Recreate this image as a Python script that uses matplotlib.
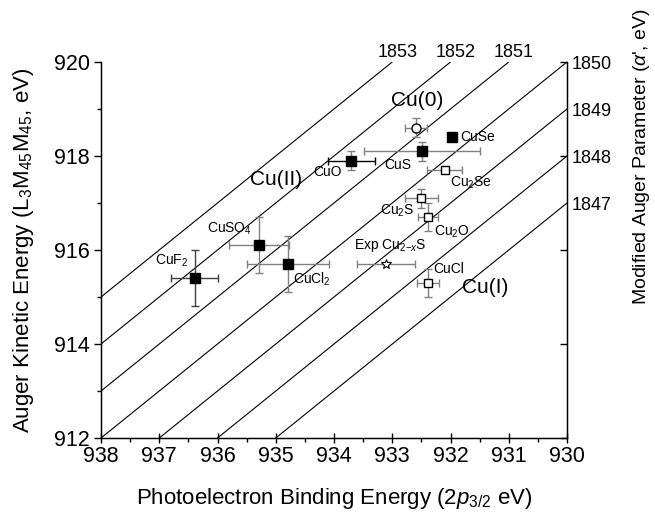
import matplotlib.pyplot as plt
from matplotlib import font_manager
from matplotlib.ticker import MultipleLocator

plt.rcParams['font.family'] = ['Liberation Sans', 'DejaVu Sans']
plt.rcParams['mathtext.fontset'] = 'custom'
plt.rcParams['mathtext.rm'] = 'Liberation Sans'
plt.rcParams['mathtext.it'] = 'Liberation Sans:italic'

# tick labels in the reference look condensed
try:
    font_manager.findfont(font_manager.FontProperties(family='Liberation Sans Narrow'),
                          fallback_to_default=False)
    tick_family, tick_size = 'Liberation Sans Narrow', 18
except ValueError:
    tick_family, tick_size = 'Liberation Sans', 15.5

# modified Auger parameter grid lines (alpha' = BE + KE)
alphas = [1847, 1848, 1849, 1850, 1851, 1852, 1853]

# Cu(II) compounds: filled squares
cu2_names = ['CuF$_2$', 'CuSO$_4$', 'CuCl$_2$', 'CuO', 'CuS']
cu2_be = [936.39, 935.29, 934.79, 933.70, 932.49]
cu2_ke = [915.4, 916.1, 915.7, 917.9, 918.1]
cu2_xerr = [0.40, 0.51, 0.70, 0.40, 1.0]
cu2_yerr = [0.6, 0.6, 0.6, 0.2, 0.2]

# Cu(I) compounds: open squares
cu1_names = ['Cu$_2$Se', 'Cu$_2$S', 'Cu$_2$O', 'CuCl']
cu1_be = [932.10, 932.50, 932.39, 932.39]
cu1_ke = [917.7, 917.1, 916.7, 915.3]
cu1_xerr = [0.30, 0.29, 0.17, 0.19]
cu1_yerr = [0.05, 0.2, 0.3, 0.3]

# Cu metal, CuSe (no bars), experimental Cu2-xS
cu0_be, cu0_ke, cu0_xerr, cu0_yerr = 932.60, 918.6, 0.19, 0.2
cuse_be, cuse_ke = 931.98, 918.4
exp_be, exp_ke, exp_xerr = 933.11, 915.7, 0.50

fig = plt.figure(figsize=(6.55, 5.12), dpi=100)
ax = fig.add_axes([0.1542, 0.1445, 0.7115, 0.7345])

for a in alphas:
    x0 = min(938, a - 912)
    x1 = max(930, a - 920)
    ax.plot([x0, x1], [a - x0, a - x1], color='black', lw=0.8, zorder=1)

grey = '#808080'
for i in range(len(cu2_be)):
    xc = 'black' if cu2_names[i] == 'CuO' else ('#404040' if i == 0 else grey)
    yc = '#404040' if i == 0 else grey
    ax.errorbar(cu2_be[i], cu2_ke[i], xerr=cu2_xerr[i], fmt='none', ecolor=xc,
                elinewidth=1, capsize=3, zorder=2)
    ax.errorbar(cu2_be[i], cu2_ke[i], yerr=cu2_yerr[i], fmt='none', ecolor=yc,
                elinewidth=1, capsize=3, zorder=2)
ax.plot(cu2_be, cu2_ke, 's', color='black', ms=6.5, zorder=3)

ax.errorbar(cu1_be, cu1_ke, xerr=cu1_xerr, yerr=cu1_yerr, fmt='none', ecolor=grey,
            elinewidth=1, capsize=3, zorder=2)
ax.plot(cu1_be, cu1_ke, 's', mfc='white', mec='black', ms=6, mew=1, zorder=3)

ax.errorbar(cu0_be, cu0_ke, xerr=cu0_xerr, yerr=cu0_yerr, fmt='none', ecolor=grey,
            elinewidth=1, capsize=3, zorder=2)
ax.plot(cu0_be, cu0_ke, 'o', mfc='white', mec='black', ms=6.5, mew=1, zorder=3)

ax.plot(cuse_be, cuse_ke, 's', color='black', ms=6.5, zorder=3)

ax.errorbar(exp_be, exp_ke, xerr=exp_xerr, fmt='none', ecolor=grey,
            elinewidth=1, capsize=3, zorder=2)
ax.plot(exp_be, exp_ke, '*', mfc='white', mec='black', ms=7, mew=0.8, zorder=3)

# compound labels
fs = 10
ax.text(936.78, 915.77, 'CuF$_2$', fontsize=fs, ha='center', va='center')
ax.text(935.79, 916.45, 'CuSO$_4$', fontsize=fs, ha='center', va='center')
ax.text(934.38, 915.38, 'CuCl$_2$', fontsize=fs, ha='center', va='center')
ax.text(934.11, 917.66, 'CuO', fontsize=fs, ha='center', va='center')
ax.text(932.91, 917.81, 'CuS', fontsize=fs, ha='center', va='center')
ax.text(931.53, 918.4, 'CuSe', fontsize=fs, ha='center', va='center')
ax.text(931.64, 917.43, 'Cu$_2$Se', fontsize=fs, ha='center', va='center')
ax.text(932.92, 916.83, 'Cu$_2$S', fontsize=fs, ha='center', va='center')
ax.text(931.98, 916.38, 'Cu$_2$O', fontsize=fs, ha='center', va='center')
ax.text(932.03, 915.6, 'CuCl', fontsize=fs, ha='center', va='center')
ax.text(933.04, 916.09, 'Exp Cu$_{2\\mathrm{-}x}$S', fontsize=fs, ha='center', va='center')

# oxidation state labels
ax.text(932.58, 919.19, 'Cu(0)', fontsize=15, ha='center', va='center')
ax.text(935.0, 917.5, 'Cu(II)', fontsize=15, ha='center', va='center')
ax.text(931.41, 915.21, 'Cu(I)', fontsize=15, ha='center', va='center')

# alpha' labels on the lines
for a in [1851, 1852, 1853]:
    ax.text(a - 920 - 0.09, 920.2, str(a), fontsize=13, ha='center', va='center', clip_on=False)
for a in [1847, 1848, 1849, 1850]:
    ax.text(929.92, a - 930 - 0.05, str(a), fontsize=13, ha='left', va='center', clip_on=False)

ax.set_xlim(938, 930)
ax.set_ylim(912, 920)
ax.xaxis.set_major_locator(MultipleLocator(1))
ax.xaxis.set_minor_locator(MultipleLocator(0.5))
ax.yaxis.set_major_locator(MultipleLocator(2))
ax.yaxis.set_minor_locator(MultipleLocator(1))
ax.tick_params(axis='y', which='major', direction='out', length=5, width=1, pad=3)
ax.tick_params(axis='x', which='major', direction='inout', length=7, width=1, pad=2)
ax.tick_params(axis='both', which='minor', direction='out', length=3, width=1)
for lab in ax.get_xticklabels() + ax.get_yticklabels():
    lab.set_family(tick_family)
    lab.set_fontsize(tick_size)
ax.spines['top'].set_visible(False)
for s in ['left', 'bottom', 'right']:
    ax.spines[s].set_linewidth(1)

ax2 = ax.twinx()
ax2.set_ylim(912, 920)
ax2.yaxis.set_major_locator(MultipleLocator(2))
ax2.tick_params(axis='y', direction='in', length=5, width=1, labelright=False)
ax2.spines['top'].set_visible(False)

ax.set_xlabel('Photoelectron Binding Energy ($\\mathit{2p}_{\\mathit{3/2}}$ eV)', fontsize=16)
ax.set_ylabel('Auger Kinetic Energy (L$_3$M$_{45}$M$_{45}$, eV)', fontsize=16)
ax.xaxis.set_label_coords(0.5, -0.128)
ax.yaxis.set_label_coords(-0.14, 0.5)
fig.text(0.979, 0.693, "Modified Auger Parameter ($\\alpha$', eV)", fontsize=14,
         rotation=90, ha='center', va='center')

fig.savefig('out.png', dpi=100)
